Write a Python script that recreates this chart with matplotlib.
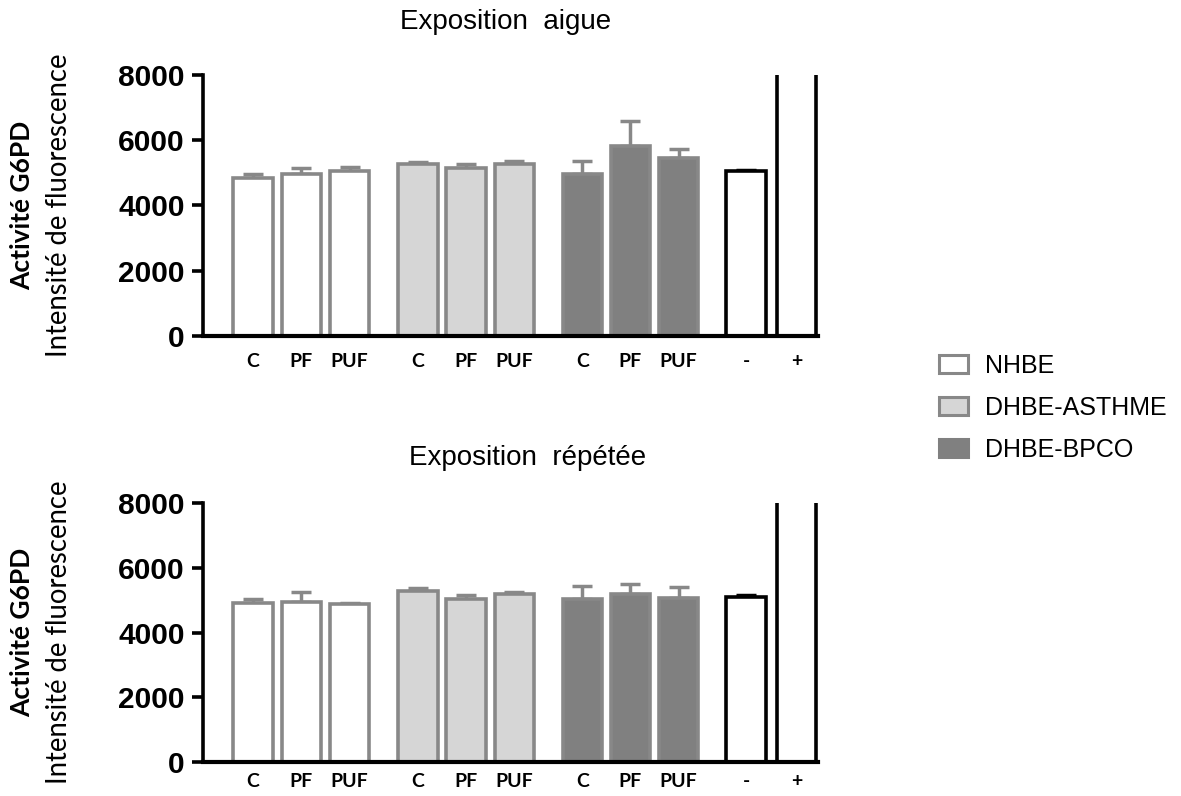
import matplotlib
matplotlib.use("Agg")
import matplotlib.pyplot as plt
from matplotlib.patches import Patch
import numpy as np

# data (upper error = SEM, drawn up only)
conditions = ["C", "PF", "PUF", "C", "PF", "PUF", "C", "PF", "PUF", "-", "+"]
groups = ["NHBE", "DHBE-ASTHME", "DHBE-BPCO"]

aigue_mean = [4830, 4950, 5060, 5270, 5160, 5270, 4950, 5830, 5460, 5060, 20000]
aigue_err = [150, 210, 115, 60, 105, 100, 420, 760, 265, 40, 0]

repetee_mean = [4920, 4950, 4890, 5280, 5020, 5200, 5040, 5200, 5080, 5090, 20000]
repetee_err = [130, 310, 30, 90, 130, 60, 390, 290, 330, 75, 0]

pos = [0, 1, 2, 3.42, 4.42, 5.42, 6.83, 7.83, 8.83, 10.23, 11.27]

fill = ["white"] * 3 + ["#d6d6d6"] * 3 + ["#808080"] * 3 + ["white", "white"]
edge = ["#888888"] * 9 + ["black", "black"]

plt.rcParams['font.family'] = ['Liberation Sans', 'DejaVu Sans']

fig = plt.figure(figsize=(11.81, 7.96), dpi=100)
ax1 = fig.add_axes([0.1719, 0.5779, 0.5207, 0.3279])
ax2 = fig.add_axes([0.1719, 0.0427, 0.5207, 0.3254])


def draw(ax, mean, err, xpad):
    for i in range(len(mean)):
        if err[i] > 0:
            ax.errorbar(pos[i], mean[i], yerr=[[0], [err[i]]], color=edge[i],
                        capsize=7.5, elinewidth=2.5, capthick=2.5, zorder=1)
        ax.bar(pos[i], mean[i], width=0.82, color=fill[i], edgecolor=edge[i],
               linewidth=2.6, zorder=2)
    ax.set_ylim(0, 8000)
    ax.set_xlim(-1.04, 11.72)
    ax.set_yticks([0, 2000, 4000, 6000, 8000])
    ax.set_xticks(pos)
    ax.set_xticklabels(conditions, family=['Lato', 'DejaVu Sans'],
                       fontweight='bold', fontsize=14)
    ax.tick_params(axis='x', length=0, pad=xpad)
    ax.tick_params(axis='y', length=8, width=2.6, labelsize=21.5, pad=5)
    for lab in ax.get_yticklabels():
        lab.set_fontweight('bold')
    ax.spines['top'].set_visible(False)
    ax.spines['right'].set_visible(False)
    ax.spines['left'].set_linewidth(2.6)
    ax.spines['bottom'].set_linewidth(3)
    ax.text(-0.294, 0.5, "Activité G6PD", transform=ax.transAxes, rotation=90,
            ha='center', va='center', fontsize=19, fontweight='bold',
            family=['Lato', 'DejaVu Sans'])
    ax.text(-0.235, 0.5, "Intensité de fluorescence", transform=ax.transAxes,
            rotation=90, ha='center', va='center', fontsize=19.8,
            family=['Lato', 'DejaVu Sans'])


draw(ax1, aigue_mean, aigue_err, 12)
draw(ax2, repetee_mean, repetee_err, 8)

fig.text(0.428, 0.972, "Exposition  aigue", ha='center', va='center', fontsize=20)
fig.text(0.447, 0.424, "Exposition  répétée", ha='center', va='center', fontsize=20)

handles = [Patch(facecolor="white", edgecolor="#888888", linewidth=2.2),
           Patch(facecolor="#d6d6d6", edgecolor="#888888", linewidth=2.2),
           Patch(facecolor="#808080", edgecolor="#808080", linewidth=2.2)]
fig.legend(handles, groups, loc='upper left', bbox_to_anchor=(0.776, 0.584),
           frameon=False, fontsize=18, handlelength=1.15, handleheight=0.75,
           labelspacing=0.72, handletextpad=0.7)

fig.savefig("out.png", dpi=100)
